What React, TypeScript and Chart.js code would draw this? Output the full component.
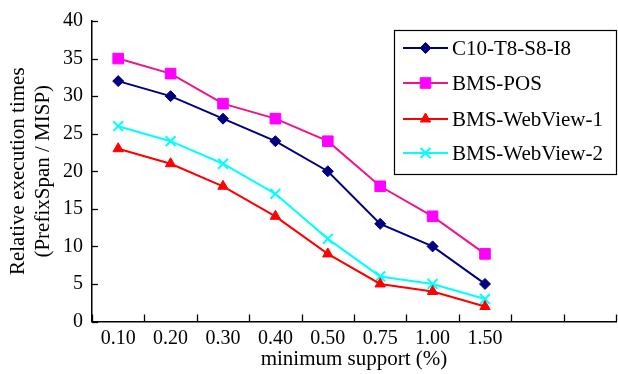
import React, { useEffect, useRef } from "react";
import { Chart, registerables } from "chart.js";
import { drawPoint } from "chart.js/helpers";

Chart.register(...registerables);

const categories = ["0.10", "0.20", "0.30", "0.40", "0.50", "0.75", "1.00", "1.50", "", ""];
const seriesNames = ["C10-T8-S8-I8", "BMS-POS", "BMS-WebView-1", "BMS-WebView-2"];
const c10Values = [32, 30, 27, 24, 20, 13, 10, 5];
const posValues = [35, 33, 29, 27, 24, 18, 14, 9];
const wv1Values = [23, 21, 18, 14, 9, 5, 4, 2];
const wv2Values = [26, 24, 21, 17, 11, 6, 5, 3];
const yTicks = [0, 5, 10, 15, 20, 25, 30, 35, 40];

const FONT = '"Liberation Serif", "Times New Roman", serif';

const axisTicksPlugin = {
  id: "axisTicks",
  afterDraw(chart: any) {
    const { ctx, scales } = chart;
    const x = scales.x;
    const y = scales.y;
    ctx.save();
    ctx.strokeStyle = "#000";
    ctx.lineWidth = 1.3;
    const left = chart.chartArea.left;
    const bottom = chart.chartArea.bottom;
    yTicks.forEach((v) => {
      const py = Math.round(y.getPixelForValue(v)) + 0.5;
      ctx.beginPath();
      ctx.moveTo(left, py);
      ctx.lineTo(left + 6, py);
      ctx.stroke();
    });
    const spacing = x.getPixelForValue(1) - x.getPixelForValue(0);
    for (let i = 0; i <= categories.length; i++) {
      const px = Math.round(x.getPixelForValue(i) - spacing / 2) + 0.5;
      ctx.beginPath();
      ctx.moveTo(px, bottom);
      ctx.lineTo(px, bottom - 7);
      ctx.stroke();
    }
    ctx.restore();
  },
};

const legendPlugin = {
  id: "boxLegend",
  afterDraw(chart: any) {
    const { ctx } = chart;
    const bx = 394, by = 30, bw = 222, bh = 144;
    ctx.save();
    ctx.fillStyle = "#fff";
    ctx.fillRect(bx, by, bw, bh);
    ctx.strokeStyle = "#000";
    ctx.lineWidth = 1.2;
    ctx.strokeRect(bx + 0.5, by + 0.5, bw, bh);
    const rows = [48, 83, 119, 153];
    chart.data.datasets.forEach((ds: any, i: number) => {
      const ry = rows[i];
      ctx.strokeStyle = ds.borderColor;
      ctx.lineWidth = ds.borderWidth;
      ctx.beginPath();
      ctx.moveTo(403, ry);
      ctx.lineTo(448, ry);
      ctx.stroke();
      ctx.fillStyle = ds.pointBackgroundColor;
      ctx.strokeStyle = ds.pointBorderColor;
      ctx.lineWidth = ds.pointBorderWidth;
      drawPoint(ctx, { pointStyle: ds.pointStyle, radius: ds.pointRadius, borderWidth: ds.pointBorderWidth, rotation: 0 }, 425.5, ry);
      ctx.fillStyle = "#000";
      ctx.font = `21px ${FONT}`;
      ctx.textBaseline = "middle";
      ctx.textAlign = "left";
      ctx.fillText(ds.label, 452, ry + 1);
    });
    ctx.restore();
  },
};

export default function App() {
  const ref = useRef<HTMLCanvasElement>(null);
  useEffect(() => {
    if (!ref.current) return;
    const tickFont = { family: FONT, size: 20 };
    const titleFont = { family: FONT, size: 21 };
    const chart = new Chart(ref.current, {
      type: "line",
      data: {
        labels: categories,
        datasets: [
          {
            label: seriesNames[0],
            data: c10Values,
            borderColor: "#000080",
            backgroundColor: "#000080",
            pointBackgroundColor: "#000080",
            pointBorderColor: "#000080",
            pointBorderWidth: 1,
            borderWidth: 2,
            pointStyle: "rectRot",
            pointRadius: 5.5,
          },
          {
            label: seriesNames[1],
            data: posValues,
            borderColor: "#F0148C",
            backgroundColor: "#FF00FF",
            pointBackgroundColor: "#FF00FF",
            pointBorderColor: "#FF00FF",
            pointBorderWidth: 1,
            borderWidth: 2,
            pointStyle: "rect",
            pointRadius: 7.5,
          },
          {
            label: seriesNames[2],
            data: wv1Values,
            borderColor: "#FF0000",
            backgroundColor: "#FF0000",
            pointBackgroundColor: "#FF0000",
            pointBorderColor: "#FF0000",
            pointBorderWidth: 1,
            borderWidth: 2,
            pointStyle: "triangle",
            pointRadius: 6,
          },
          {
            label: seriesNames[3],
            data: wv2Values,
            borderColor: "#00FFFF",
            backgroundColor: "#00FFFF",
            pointBackgroundColor: "#00FFFF",
            pointBorderColor: "#00FFFF",
            pointBorderWidth: 2,
            borderWidth: 2,
            pointStyle: "crossRot",
            pointRadius: 7,
          },
        ],
      },
      options: {
        animation: false,
        responsive: false,
        devicePixelRatio: 1,
        layout: { padding: { top: 18, right: 4, left: 0, bottom: 0 } },
        plugins: { legend: { display: false }, tooltip: { enabled: false } },
        elements: { line: { tension: 0 } },
        scales: {
          x: {
            type: "category",
            offset: true,
            grid: { display: false, offset: true, drawTicks: false },
            border: { display: true, color: "#000", width: 1.5 },
            ticks: { color: "#000", font: tickFont, padding: 5, maxRotation: 0, autoSkip: false },
            title: { display: true, text: "minimum support (%)", color: "#000", font: titleFont, padding: { top: 0, bottom: 2 } },
            afterFit: (s: any) => {
              s.height = 52.5;
            },
          },
          y: {
            min: 0,
            max: 40,
            grid: { display: false, drawTicks: false },
            border: { display: true, color: "#000", width: 1.5 },
            ticks: { stepSize: 5, color: "#000", font: tickFont, padding: 9 },
            title: {
              display: true,
              text: ["Relative execution times", "(PrefixSpan / MISP)"],
              color: "#000",
              font: titleFont,
              padding: { top: 6, bottom: 0 },
            },
            afterFit: (s: any) => {
              s.width = 92;
            },
          },
        },
      },
      plugins: [axisTicksPlugin, legendPlugin],
    } as any);
    return () => chart.destroy();
  }, []);
  return (
    <div style={{ position: "absolute", left: 0, top: 0, width: 618, height: 374, overflow: "hidden", background: "#fff" }}>
      <canvas ref={ref} width={625} height={374} style={{ display: "block" }} />
    </div>
  );
}
